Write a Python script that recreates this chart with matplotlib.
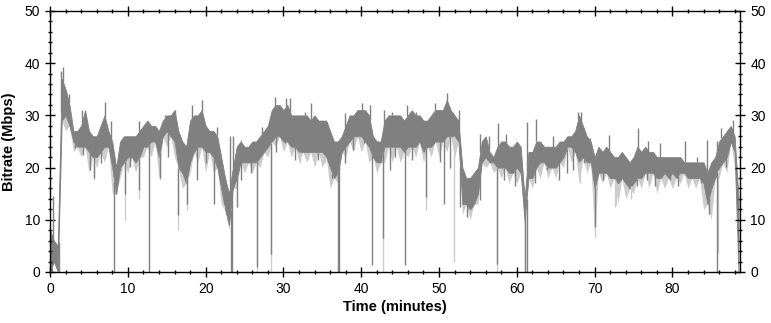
import numpy as np
import matplotlib
matplotlib.use("Agg")
import matplotlib.pyplot as plt
from matplotlib.ticker import MultipleLocator

plt.rcParams["font.family"] = ["Liberation Sans", "DejaVu Sans"]

# main band, sampled every half minute (upper / lower edge of the dark trace)
times = np.arange(0, 89, 0.5)
band_hi = [8, 6, 5, 37, 35, 32, 27, 27, 28, 31, 27, 26, 26, 28, 30, 27, 25, 20,
           25, 26, 26, 26, 26, 27, 28, 29, 28, 28, 27, 29, 30, 30, 31, 27, 25, 24,
           29, 30, 30, 31, 28, 27, 27, 26, 22, 18, 15, 20, 24, 25, 24, 24, 25, 25,
           26, 27, 28, 31, 32, 32, 31, 32, 30, 30, 30, 30, 30, 29, 30, 29, 29, 29,
           27, 25, 25, 26, 28, 30, 30, 31, 31, 31, 30, 26, 25, 25, 29, 30, 30, 30,
           30, 29, 30, 31, 30, 30, 29, 29, 30, 31, 31, 31, 33, 31, 30, 29, 20, 18,
           18, 19, 20, 25, 26, 23, 22, 24, 25, 25, 24, 24, 25, 24, 14, 23, 23, 25,
           25, 24, 24, 24, 24, 25, 25, 26, 26, 27, 30, 28, 26, 25, 22, 24, 23, 24,
           23, 22, 22, 23, 22, 21, 22, 24, 23, 24, 23, 23, 22, 22, 22, 22, 22, 22,
           22, 21, 21, 21, 21, 21, 21, 19, 21, 22, 25, 26, 27, 28, 26, 14]
band_lo = [0, 2, 0, 29, 30, 28, 25, 24, 24, 24, 23, 22, 22, 23, 24, 24, 20, 15,
           20, 21, 22, 22, 21, 22, 24, 24, 25, 25, 22, 26, 27, 26, 25, 20, 19, 17,
           21, 23, 24, 24, 23, 23, 22, 20, 16, 12, 9, 16, 18, 21, 21, 21, 21, 21,
           22, 23, 24, 25, 26, 26, 25, 25, 24, 24, 23, 23, 23, 23, 23, 23, 23, 22,
           20, 18, 19, 23, 24, 25, 26, 26, 26, 25, 24, 22, 21, 21, 24, 24, 24, 24,
           24, 23, 24, 24, 24, 25, 23, 24, 24, 25, 25, 25, 26, 26, 26, 25, 13, 13,
           12, 13, 15, 21, 22, 21, 21, 20, 20, 20, 19, 19, 20, 19, 10, 18, 18, 20,
           21, 21, 20, 20, 20, 21, 22, 24, 24, 23, 21, 22, 21, 21, 16, 19, 19, 19,
           18, 18, 17, 18, 17, 16, 17, 18, 18, 19, 19, 19, 18, 18, 19, 18, 19, 18,
           19, 19, 18, 18, 18, 18, 17, 13, 16, 18, 20, 21, 22, 25, 23, 0]

# light grey trace: lowest value in each minute
minutes = np.arange(0, 89)
light_lo = [0, 0, 27, 23, 22, 19, 20, 21, 15, 18, 19, 19, 22, 22, 18, 24, 22, 16,
            19, 21, 19, 19, 13, 8, 16, 19, 19, 20, 22, 24, 23, 22, 21, 21, 20, 20,
            16, 17, 22, 23, 23, 21, 19, 21, 21, 21, 22, 22, 21, 22, 22, 23, 22, 11,
            10, 13, 20, 19, 18, 17, 17, 8, 16, 18, 18, 18, 20, 21, 17, 19, 7, 17,
            16, 13, 14, 15, 16, 16, 15, 16, 16, 17, 16, 16, 12, 10, 18, 19, 20]

# short drops below the band (time, lowest value)
drop_t = [0.2, 1.1, 3.2, 4.3, 5.1, 5.7, 6.6, 8.27, 8.5, 9.0, 9.65, 10.3, 11.4,
          12.7, 14.1, 15.2, 16.5, 17.6, 18.9, 20.1, 21.1, 23.2, 23.45, 24.0,
          24.6, 25.8, 26.6, 28.35, 29.1, 30.2, 31.5, 34.5, 36.3, 37.0, 37.15,
          37.9, 39.0, 40.3, 41.4, 42.0, 42.8, 43.7, 44.4, 45.6, 46.5, 48.35,
          50.1, 50.7, 51.4, 52.7, 53.6, 55.3, 57.5, 58.3, 59.8, 61.1, 61.25,
          62.4, 63.9, 65.4, 66.4, 67.2, 68.7, 70.05, 71.1, 73.2, 75.4, 76.7,
          77.7, 79.7, 80.7, 82.2, 83.7, 84.5, 84.7, 85.75, 86.9, 88.6]
drop_v = [0, 0, 23.7, 22.4, 19.5, 18, 20.8, 0, 15.7, 19.5, 15, 20.2, 15.7,
          0, 18, 22, 11, 13, 17.6, 20.8, 13.1, 0, 0, 12.5,
          17.6, 19, 1, 3.5, 23, 24.7, 21.5, 21.5, 18, 0, 0,
          20.8, 23.4, 24.7, 1.3, 21.5, 6.6, 19.5, 22, 1.3, 21.5, 14.4,
          21, 13, 20, 12.5, 10.6, 13.8, 1.5, 17.6, 16.4, 0, 0,
          17, 19.5, 17.6, 18.9, 19.5, 20.8, 8.7, 17.6, 18.2, 16.4, 17.6,
          16.4, 17.6, 16.4, 18.2, 17, 13.1, 11.2, 0, 20.2, 0]
light_drop_t = [5.7, 9.65, 11.4, 14.1, 16.5, 17.6, 22.4, 26.6, 28.35, 32.1,
                35.4, 36.3, 42.8, 48.35, 51.9, 57.5, 61.0, 68.1, 70.05, 72.6,
                72.8, 74.7, 85.9]
light_drop_v = [17.6, 10, 14, 17.6, 8, 11.9, 12, 0, 0, 20.8,
                20.8, 17, 0, 11.9, 2, 0, 0, 17, 6.7, 12.5,
                12.8, 14, 3.6]
# short peaks above the band (time, highest value)
peak_t = [0.4, 1.4, 1.7, 2.4, 4.1, 4.5, 7.05, 7.9, 11.4, 12.4, 14.8, 16.1,
          18.2, 19.55, 21.4, 23.1, 23.5, 24.5, 27.2, 28.9, 30.3, 30.9, 32.8,
          33.5, 35.6, 37.9, 40.1, 41.1, 42.9, 43.9, 45.9, 47.1, 49.5, 51.0,
          52.6, 55.3, 56.4, 57.6, 58.6, 61.3, 62.5, 64.7, 67.1, 67.9, 68.3,
          69.4, 71.9, 75.6, 76.9, 78.4, 81.6, 83.1, 84.4, 85.7, 86.3, 87.8, 88.6]
peak_v = [14.5, 38.5, 39.3, 34, 31, 31, 32.5, 29, 29, 29, 30, 31,
          32, 33, 27.8, 26, 26, 25.3, 27.8, 33.6, 33.3, 33.3, 30.7,
          32.3, 28.8, 30.4, 32.3, 32, 31, 30.7, 32, 30.7, 32.3, 34.3,
          31, 26.5, 26, 28.5, 26.5, 28.8, 29.4, 26, 26.3, 30.7, 30.6,
          25.6, 26.3, 27.5, 25, 24.7, 25, 22.1, 25.3, 25, 27.5, 29.1, 13.7]

dark = "#808080"
light = "#cccccc"

fig = plt.figure(figsize=(7.71, 3.23), dpi=100)
ax = fig.add_axes([0.0649, 0.158, 0.895, 0.808])

# light fringe: each minute's low point joined back to the band between minutes
fringe_t = np.ravel(np.column_stack([minutes, minutes + 0.5]))
fringe_edge = np.interp(fringe_t, times, band_lo)
fringe_low = np.ravel(np.column_stack([light_lo, np.interp(minutes + 0.5, times, band_lo)]))
ax.fill_between(fringe_t, np.minimum(fringe_low, fringe_edge), fringe_edge,
                color=light, lw=0)
ax.vlines(light_drop_t, light_drop_v, np.interp(light_drop_t, times, band_lo),
          color=light, lw=1)
ax.fill_between(times, band_lo, band_hi, color=dark, lw=0.6, edgecolor=dark)
ax.vlines(drop_t, drop_v, np.interp(drop_t, times, band_lo), color=dark, lw=1)
ax.vlines(peak_t, np.interp(peak_t, times, band_hi), peak_v, color=dark, lw=1)

ax.set_xlim(0, 88.7)
ax.set_ylim(0, 50)
ax.xaxis.set_major_locator(MultipleLocator(10))
ax.xaxis.set_minor_locator(MultipleLocator(2))
ax.yaxis.set_major_locator(MultipleLocator(10))
ax.yaxis.set_minor_locator(MultipleLocator(2))
ax.tick_params(which="both", direction="inout", top=True, right=True,
               labelright=True, colors="black", labelsize=10, width=1)
ax.tick_params(which="major", length=6.5, pad=4)
ax.tick_params(which="minor", length=3)
for s in ax.spines.values():
    s.set_linewidth(1)
    s.set_color("black")

ax.set_xlabel("Time (minutes)", fontsize=10.5, fontweight="bold", labelpad=3)
ax.set_ylabel("Bitrate (Mbps)", fontsize=10.5, fontweight="bold", labelpad=6)

fig.savefig("out.png", dpi=100, facecolor="white")
